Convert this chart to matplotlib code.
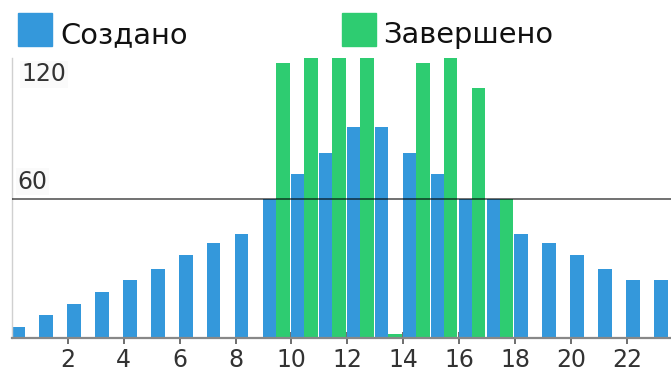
import matplotlib
matplotlib.use("Agg")
import matplotlib.pyplot as plt
from matplotlib.patches import Rectangle

hours = list(range(24))
created = [5, 10, 15, 20, 25, 30, 36, 41, 45, 60, 71, 80, 91, 91,
           80, 71, 60, 60, 45, 41, 36, 30, 25, 25]
completed = [0, 0, 0, 0, 0, 0, 0, 0, 0, 119, 128, 134, 130, 2,
             119, 126, 108, 60, 0, 0, 0, 0, 0, 0]
xticks = list(range(2, 24, 2))
yticks = [60, 120]
series_names = ["Создано", "Завершено"]

BLUE = "#3498db"
GREEN = "#2ecc71"
W = 0.48

fig = plt.figure(figsize=(6.71, 3.73), dpi=100)
ax = fig.add_axes([12 / 671, 1 - 338.3 / 373, 659 / 671, (338.3 - 58) / 373])

ax.bar([h - 0.02 for h in hours], created, width=W, align="edge", color=BLUE, zorder=2)
ax.bar([h + W - 0.02 for h in hours], completed, width=W, align="edge", color=GREEN, zorder=2)

ax.set_xlim(0.0, 23.58)
ax.set_ylim(0, 121)

# reference line at 60 sits over the bars
ax.axhline(60, color="black", alpha=0.6, lw=1.3, zorder=3)

for s in ["top", "right"]:
    ax.spines[s].set_visible(False)
ax.spines["left"].set_color("#d0d0d0")
ax.spines["left"].set_linewidth(1.0)
ax.spines["bottom"].set_color("#888888")
ax.spines["bottom"].set_linewidth(1.6)
ax.spines["bottom"].set_zorder(4)

ax.set_xticks(xticks)
ax.set_xticklabels([str(t) for t in xticks])
ax.tick_params(axis="x", direction="inout", length=8, width=1.2, color="#555555",
               labelsize=17, labelcolor="#333333", pad=3)
ax.set_yticks([])

# y labels drawn inside the plot area
ax.text(0.35, yticks[1] - 0.8, str(yticks[1]), fontsize=17, color="#333333",
        va="top", ha="left", zorder=5,
        bbox=dict(facecolor="#fafafa", edgecolor="none", pad=1))
ax.text(0.2, yticks[0] + 2.5, str(yticks[0]), fontsize=17, color="#333333",
        va="bottom", ha="left", zorder=5,
        bbox=dict(facecolor="#fafafa", edgecolor="none", pad=1))

# legend across the top
for x0, tx, color, name in [(18, 60, BLUE, series_names[0]), (342, 383, GREEN, series_names[1])]:
    fig.patches.append(Rectangle((x0 / 671, 1 - 46 / 373), 34 / 671, 33 / 373,
                                 transform=fig.transFigure, color=color))
    fig.text(tx / 671, 1 - 43 / 373, name, fontsize=20.8, color="#111111",
             va="baseline", ha="left")

fig.savefig("out.png", dpi=100)
